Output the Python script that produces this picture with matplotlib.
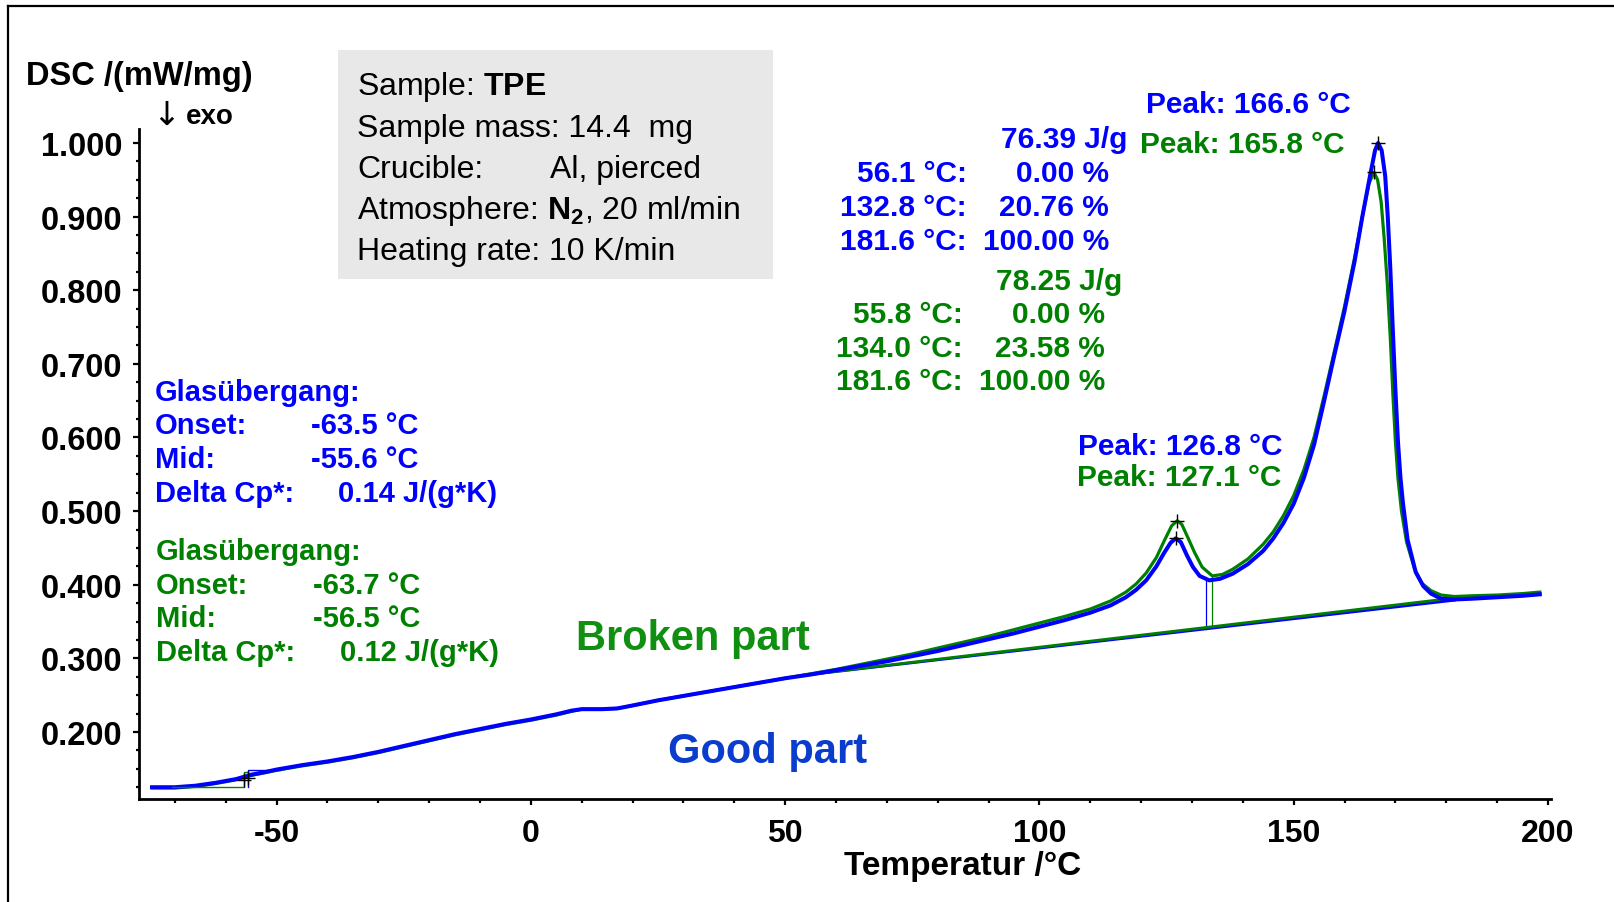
import matplotlib
matplotlib.use('Agg')
import matplotlib.pyplot as plt
from matplotlib.patches import Rectangle
from matplotlib.lines import Line2D
from matplotlib.ticker import MultipleLocator, FormatStrFormatter

# DSC-Messung TPE, Good part (blau) und Broken part (grün)
temp_good = [-74.5, -70, -66, -62, -58, -55, -52, -50, -45, -40, -35, -30, -25, -20,
             -15, -10, -5, 0, 5, 8, 10, 14, 17, 20, 25, 30, 35, 40, 45, 50, 55, 60,
             65, 70, 75, 80, 85, 90, 95, 100, 105, 110, 114, 117, 119, 121, 123,
             124.5, 125.8, 126.8, 127.8, 129, 130.2, 131.5, 133.4, 135.5, 138, 141,
             144, 146, 148, 150, 152, 154, 156, 158, 160, 162, 163.5, 165, 166,
             166.6, 167.3, 168, 168.5, 169, 169.5, 170, 170.5, 171, 171.5, 172.4,
             174, 175.5, 177, 179, 181.6, 185, 190, 195, 198.4]
dsc_good = [0.125, 0.125, 0.127, 0.131, 0.136, 0.142, 0.146, 0.149, 0.155, 0.160,
            0.166, 0.173, 0.181, 0.189, 0.197, 0.204, 0.211, 0.217, 0.224, 0.229,
            0.231, 0.231, 0.232, 0.236, 0.243, 0.249, 0.255, 0.261, 0.267, 0.273,
            0.278, 0.284, 0.290, 0.296, 0.303, 0.310, 0.318, 0.326, 0.334, 0.343,
            0.352, 0.362, 0.372, 0.383, 0.393, 0.406, 0.425, 0.443, 0.457, 0.463,
            0.458, 0.440, 0.424, 0.412, 0.406, 0.408, 0.415, 0.428, 0.446, 0.463,
            0.484, 0.510, 0.545, 0.590, 0.650, 0.712, 0.772, 0.840, 0.900, 0.955,
            0.990, 1.000, 0.990, 0.955, 0.900, 0.830, 0.745, 0.665, 0.595, 0.545,
            0.510, 0.461, 0.417, 0.398, 0.388, 0.381, 0.380, 0.381, 0.383, 0.385,
            0.387]

temp_broken = [-74.5, -70, -66, -62, -58, -55, -52, -50, -45, -40, -35, -30, -25, -20,
               -15, -10, -5, 0, 5, 8, 10, 14, 17, 20, 25, 30, 35, 40, 45, 50, 55, 60,
               65, 70, 75, 80, 85, 90, 95, 100, 105, 110, 114, 117, 119, 121, 123,
               124.5, 126, 127.1, 128, 129.2, 130.5, 132, 134, 136, 138, 141, 144,
               146, 148, 150, 152, 154, 156, 158, 160, 162, 163.5, 164.8, 165.8,
               166.5, 167.2, 167.8, 168.4, 169, 169.5, 170, 170.5, 171.2, 172.2,
               173.8, 175.2, 177, 179, 181.6, 185, 190, 195, 198.4]
dsc_broken = [0.124, 0.124, 0.126, 0.130, 0.135, 0.141, 0.145, 0.148, 0.154, 0.159,
              0.165, 0.172, 0.180, 0.188, 0.196, 0.203, 0.210, 0.216, 0.223, 0.228,
              0.231, 0.231, 0.232, 0.236, 0.243, 0.249, 0.255, 0.261, 0.267, 0.273,
              0.279, 0.285, 0.292, 0.299, 0.306, 0.314, 0.322, 0.330, 0.339, 0.348,
              0.357, 0.367, 0.378, 0.390, 0.401, 0.416, 0.437, 0.459, 0.480, 0.487,
              0.482, 0.464, 0.444, 0.424, 0.412, 0.414, 0.421, 0.435, 0.455, 0.472,
              0.494, 0.521, 0.556, 0.600, 0.657, 0.717, 0.778, 0.845, 0.900, 0.945,
              0.960, 0.950, 0.920, 0.870, 0.810, 0.735, 0.660, 0.595, 0.545, 0.500,
              0.458, 0.421, 0.402, 0.392, 0.386, 0.384, 0.385, 0.386, 0.388, 0.390]

# Peakauswertung
peak_temp_good = [126.8, 166.6]
peak_dsc_good = [0.463, 1.000]
peak_temp_broken = [127.1, 165.8]
peak_dsc_broken = [0.487, 0.960]

# Partielle Flächen: Grenzen (°C) und Basislinie
area_temp_good = [56.1, 132.8, 181.6]
area_pct_good = [0.00, 20.76, 100.00]
area_temp_broken = [55.8, 134.0, 181.6]
area_pct_broken = [0.00, 23.58, 100.00]
area_base_good = [0.279, 0.340, 0.379]
area_base_broken = [0.279, 0.343, 0.382]
area_cut_good = 0.407
area_cut_broken = 0.412
enthalpy_good = 76.39
enthalpy_broken = 78.25

# Glasübergang
tg_onset_good, tg_mid_good, tg_cp_good = -63.5, -55.6, 0.14
tg_onset_broken, tg_mid_broken, tg_cp_broken = -63.7, -56.5, 0.12

BLUE = '#0000ff'
GREEN = '#008000'

plt.rcParams['font.family'] = ['Liberation Sans', 'DejaVu Sans']
plt.rcParams['axes.unicode_minus'] = False
plt.rcParams['mathtext.fontset'] = 'custom'
plt.rcParams['mathtext.rm'] = 'Liberation Sans'
plt.rcParams['mathtext.bf'] = 'Liberation Sans:bold'

W, H = 1614, 903
fig = plt.figure(figsize=(W / 100, H / 100), dpi=100)
ax = fig.add_axes([139.3 / W, 1 - 800 / H, (1551 - 139.3) / W, (800 - 130) / H])
ax.set_facecolor('none')


def fxy(px, py):
    return px / W, 1 - py / H


# Kurven
ax.plot(temp_broken, dsc_broken, color=GREEN, lw=2.3, zorder=3)
ax.plot(temp_good, dsc_good, color=BLUE, lw=2.9, zorder=4)

# Basislinien der Integration
ax.plot([area_temp_broken[0], area_temp_broken[-1]], [area_base_broken[0], area_base_broken[-1]],
        color=GREEN, lw=2.0, zorder=3)
ax.plot([area_temp_good[0], area_temp_good[-1]], [area_base_good[0], area_base_good[-1]],
        color=BLUE, lw=2.0, zorder=2)
ax.plot([area_temp_good[1]] * 2, [area_base_good[1], area_cut_good], color=BLUE, lw=0.9)
ax.plot([area_temp_broken[1]] * 2, [area_base_broken[1], area_cut_broken], color=GREEN, lw=0.9)

# Glasübergangs-Konstruktion
ax.plot([-70.6, tg_mid_broken, tg_mid_broken, tg_mid_good],
        [0.1247, 0.1247, 0.1455, 0.1455], color=GREEN, lw=1.0, zorder=5)
ax.plot([tg_mid_good, tg_mid_good, -49.3], [0.125, 0.149, 0.149], color=BLUE, lw=1.0, zorder=5)
ax.plot([tg_mid_good, tg_mid_broken], [0.137, 0.135], ls='none', marker='+',
        color='black', ms=10, mew=1.0, zorder=6)

# Peakmarkierungen
ax.plot(peak_temp_good, peak_dsc_good, ls='none', marker='+', color='black', ms=10, mew=1.0, zorder=6)
ax.plot(peak_temp_broken, peak_dsc_broken, ls='none', marker='+', color='black', ms=10, mew=1.0, zorder=6)

# Achsen
ax.set_xlim(-77, 200.6)
ax.set_ylim(0.109, 1.019)
ax.xaxis.set_major_locator(MultipleLocator(50))
ax.xaxis.set_minor_locator(MultipleLocator(10))
ax.yaxis.set_major_locator(MultipleLocator(0.1))
ax.yaxis.set_minor_locator(MultipleLocator(0.025))
ax.yaxis.set_major_formatter(FormatStrFormatter('%.3f'))
for s in ['top', 'right']:
    ax.spines[s].set_visible(False)
for s in ['left', 'bottom']:
    ax.spines[s].set_linewidth(2.0)
ax.tick_params(axis='x', which='major', length=4.5, width=1.6, pad=9, labelsize=23)
ax.tick_params(axis='x', which='minor', length=2.8, width=1.6)
ax.tick_params(axis='y', which='major', length=4, width=1.6, pad=8, labelsize=23.5)
ax.tick_params(axis='y', which='minor', length=2.5, width=1.6)
for lab in ax.get_xticklabels() + ax.get_yticklabels():
    lab.set_fontweight('bold')

fig.text(*fxy(26, 77), 'DSC /(mW/mg)', fontsize=23.5, fontweight='bold', va='center')
fig.text(*fxy(152, 115), '↓', fontsize=24, family='DejaVu Sans', va='center')
fig.text(*fxy(186, 117), 'exo', fontsize=20, fontweight='bold', va='center')
fig.text(*fxy(963, 867), 'Temperatur /°C', fontsize=24, fontweight='bold', va='center', ha='center')

# Rahmen
fig.add_artist(Line2D([8 / W, 8 / W], [0, 1 - 7 / H], color='black', lw=1.6))
fig.add_artist(Line2D([8 / W, 1], [1 - 7 / H, 1 - 7 / H], color='black', lw=1.6))

# Messbedingungen
fig.add_artist(Rectangle(fxy(338, 280), (773 - 338) / W, (280 - 51) / H,
                         facecolor='#e8e8e8', edgecolor='none', zorder=0))
info_y = [87, 129, 170, 211, 252]
info_kw = dict(fontsize=23, va='center')
fig.text(*fxy(357, info_y[0]), 'Sample: $\\mathbf{TPE}$', **info_kw)
fig.text(*fxy(357, info_y[1]), 'Sample mass: 14.4  mg', **info_kw)
fig.text(*fxy(357, info_y[2]), 'Crucible:', **info_kw)
fig.text(*fxy(550, info_y[2]), 'Al, pierced', **info_kw)
fig.text(*fxy(357, info_y[3]), 'Atmosphere: $\\mathbf{N_2}$, 20 ml/min', **info_kw)
fig.text(*fxy(357, info_y[4]), 'Heating rate: 10 K/min', **info_kw)

# Glasübergang-Texte
tg_blocks = [
    (BLUE, 155, 311, 338, [393, 426, 460, 494], tg_onset_good, tg_mid_good, tg_cp_good),
    (GREEN, 156, 313, 340, [552, 586, 619, 653], tg_onset_broken, tg_mid_broken, tg_cp_broken),
]
for col, x0, x1, x2, ys, onset, mid, cp in tg_blocks:
    kw = dict(color=col, fontsize=21, fontweight='bold', va='center')
    fig.text(*fxy(x0, ys[0]), 'Glasübergang:', **kw)
    fig.text(*fxy(x0, ys[1]), 'Onset:', **kw)
    fig.text(*fxy(x1, ys[1]), f'{onset:.1f} °C', **kw)
    fig.text(*fxy(x0, ys[2]), 'Mid:', **kw)
    fig.text(*fxy(x1, ys[2]), f'{mid:.1f} °C', **kw)
    fig.text(*fxy(x0, ys[3]), 'Delta Cp*:', **kw)
    fig.text(*fxy(x2, ys[3]), f'{cp:.2f} J/(g*K)', **kw)

# Partielle Flächen
area_blocks = [
    (BLUE, 1127, 140, 967, 1109, [174, 208, 242], enthalpy_good, area_temp_good, area_pct_good),
    (GREEN, 1122, 282, 963, 1105, [315, 349, 382], enthalpy_broken, area_temp_broken, area_pct_broken),
]
for col, xe, ye, xr1, xr2, ys, dh, temps, pcts in area_blocks:
    kw = dict(color=col, fontsize=21.5, fontweight='bold', va='center')
    fig.text(*fxy(xe, ye), f'{dh:.2f} J/g', ha='right', **kw)
    for t, p, y in zip(temps, pcts, ys):
        fig.text(*fxy(xr1, y), f'{t:.1f} °C:', ha='right', **kw)
        fig.text(*fxy(xr2, y), f'{p:.2f} %', ha='right', **kw)

# Peaktexte
pk = dict(fontsize=21.5, fontweight='bold', va='center')
fig.text(*fxy(1146, 105), f'Peak: {peak_temp_good[1]:.1f} °C', color=BLUE, **pk)
fig.text(*fxy(1140, 145), f'Peak: {peak_temp_broken[1]:.1f} °C', color=GREEN, **pk)
fig.text(*fxy(1078, 447), f'Peak: {peak_temp_good[0]:.1f} °C', color=BLUE, **pk)
fig.text(*fxy(1077, 478), f'Peak: {peak_temp_broken[0]:.1f} °C', color=GREEN, **pk)

# Probenbezeichnung
fig.text(*fxy(576, 639), 'Broken part', color='#109010', fontsize=30, fontweight='bold', va='center')
fig.text(*fxy(668, 752), 'Good part', color='#0b3dcc', fontsize=30, fontweight='bold', va='center')

fig.savefig('out.png', dpi=100)
